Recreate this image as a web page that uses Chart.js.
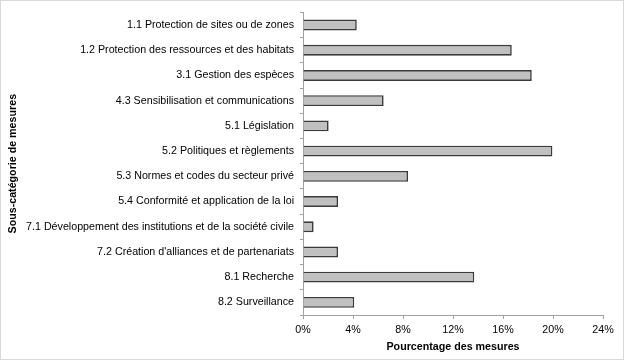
<!DOCTYPE html>
<html>
<head>
<meta charset="utf-8">
<script src="https://cdn.jsdelivr.net/npm/chart.js@4"></script>
<style>
html,body{margin:0;padding:0;background:#fff;}
#wrap{width:624px;height:360px;position:relative;}
</style>
</head>
<body>
<div id="wrap"><canvas id="c" width="624" height="360"></canvas></div>
<script>
const categories = [
  "1.1 Protection de sites ou de zones",
  "1.2 Protection des ressources et des habitats",
  "3.1 Gestion des espèces",
  "4.3 Sensibilisation et communications",
  "5.1 Législation",
  "5.2 Politiques et règlements",
  "5.3 Normes et codes du secteur privé",
  "5.4 Conformité et application de la loi",
  "7.1 Développement des institutions et de la société civile",
  "7.2 Création d'alliances et de partenariats",
  "8.1 Recherche",
  "8.2 Surveillance"
];
const percentValues = [4.3, 16.7, 18.3, 6.45, 2.05, 19.95, 8.4, 2.8, 0.85, 2.8, 13.7, 4.1];
const xTicks = [0, 4, 8, 12, 16, 20, 24];
const xTitle = "Pourcentage des mesures";
const yTitle = "Sous-catégorie de mesures";

const frame = {
  id: 'frame',
  beforeDraw(chart) {
    const ctx = chart.ctx;
    ctx.save();
    ctx.fillStyle = '#fff';
    ctx.fillRect(0, 0, chart.width, chart.height);
    ctx.strokeStyle = '#d9d9d9';
    ctx.lineWidth = 1;
    ctx.strokeRect(0.5, 0.5, chart.width - 1, chart.height - 1);
    ctx.restore();
  }
};

const FONT = 'Liberation Sans, Arial, sans-serif';

new Chart(document.getElementById('c'), {
  type: 'bar',
  data: {
    labels: categories,
    datasets: [{
      data: percentValues,
      backgroundColor: '#c0c0c0',
      borderColor: '#3a3a3a',
      borderWidth: 1.6,
      barPercentage: 0.43,
      categoryPercentage: 1.0
    }]
  },
  options: {
    indexAxis: 'y',
    responsive: false,
    animation: false,
    layout: { padding: { top: 4, right: 21, left: 7, bottom: 0 } },
    plugins: { legend: { display: false }, tooltip: { enabled: false } },
    scales: {
      x: {
        min: 0, max: 24,
        afterBuildTicks(scale) { scale.ticks = xTicks.map(v => ({ value: v })); },
        afterFit(scale) { scale.height = 45; },
        grid: { display: true, drawOnChartArea: false, drawTicks: true, tickLength: 4, color: '#a0a0a0', lineWidth: 1 },
        border: { display: true, color: '#a0a0a0', width: 1 },
        ticks: {
          callback: (v) => v + '%',
          color: '#000',
          font: { family: FONT, size: 10.7 },
          padding: 5,
          maxRotation: 0
        },
        title: {
          display: true, text: xTitle, color: '#000',
          font: { family: FONT, size: 10.7, weight: 'bold' },
          padding: { top: 4, bottom: 7 }
        }
      },
      y: {
        afterFit(scale) { scale.width = 296; },
        grid: { display: true, drawOnChartArea: false, drawTicks: true, tickLength: 3, color: '#a0a0a0', lineWidth: 1, offset: true },
        border: { display: true, color: '#a0a0a0', width: 1 },
        ticks: {
          color: '#000',
          font: { family: FONT, size: 10.7 },
          padding: 6,
          autoSkip: false
        },
        title: {
          display: true, text: yTitle, color: '#000',
          font: { family: FONT, size: 10.7, weight: 'bold' },
          padding: { top: 0, bottom: 0 }
        }
      }
    }
  },
  plugins: [frame]
});
</script>
</body>
</html>
